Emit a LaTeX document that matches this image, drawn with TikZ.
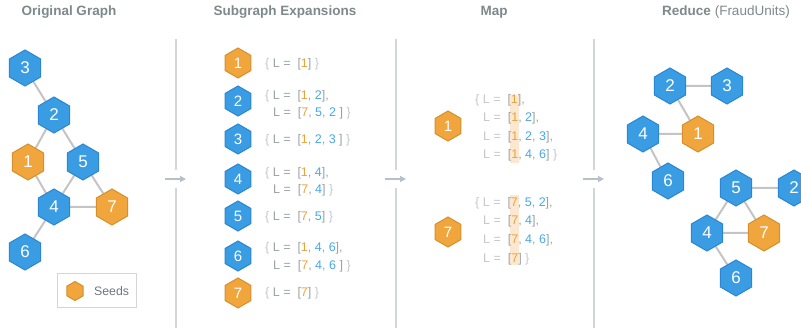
\documentclass[tikz,border=0pt]{standalone}
\usepackage{fontspec}
\setmainfont{Liberation Sans}
\usetikzlibrary{shapes.geometric,arrows.meta,backgrounds}
\definecolor{hblue}{HTML}{3A9DE3}
\definecolor{hbluedk}{HTML}{2A86D4}
\definecolor{horange}{HTML}{F0A63C}
\definecolor{horangedk}{HTML}{D68F2C}
\definecolor{nblue}{HTML}{45A8E8}
\definecolor{nor}{HTML}{E9A33E}
\definecolor{tgray}{HTML}{9BA1A6}
\definecolor{tlight}{HTML}{C3C7CB}
\definecolor{ttitle}{HTML}{7E8989}
\definecolor{edgegray}{HTML}{C4C4C4}
\definecolor{sepgray}{HTML}{D2D6DA}
\definecolor{arrgray}{HTML}{B5C0CB}
\definecolor{hilite}{HTML}{FCE8D0}
\definecolor{legtext}{HTML}{6E777C}
\newcommand\cO[1]{\textcolor{nor}{#1}}
\newcommand\cB[1]{\textcolor{nblue}{#1}}
\newcommand\lbr{\textcolor{tlight}{\{}}
\newcommand\rbr{\textcolor{tlight}{\}}}
\newcommand\Lq{L\ =\ \ [}
\newcommand\Lql{\textcolor{tlight}{L\ =}\ \ [}
\begin{document}
\begin{tikzpicture}[x=1pt,y=-1pt,
  hex/.style={regular polygon, regular polygon sides=6, shape border rotate=30, inner sep=0pt, line width=1pt, text=white},
  hb/.style={hex, fill=hblue, draw=hbluedk},
  ho/.style={hex, fill=horange, draw=horangedk},
  big/.style={minimum size=36pt, font=\fontsize{17}{17}\selectfont},
  small/.style={minimum size=30pt, font=\fontsize{15}{15}\selectfont},
  edge/.style={draw=edgegray, line width=2pt},
  txt/.style={anchor=west, inner sep=0pt, text height=9pt, text depth=0pt, text=tgray, font=\fontsize{12.5}{12.5}\selectfont},
  title/.style={text=ttitle, font=\fontsize{13.5}{13.5}\selectfont},
  sepline/.style={draw=sepgray, line width=1.2pt},
  arr/.style={draw=arrgray, line width=1.2pt, -{Triangle[length=6pt,width=6pt]}}
]
\useasboundingbox (0,0) rectangle (801,328);
\clip (0,0) rectangle (801,328);

% titles
\node[title] (t1) at (69,12) {\bfseries Original Graph};
\node[title] (t2) at (285,12) {\bfseries Subgraph Expansions};
\node[title] (t3) at (494,12) {\bfseries Map};
\node[title] (t4) at (726,12) {\textbf{Reduce} (FraudUnits)};

% separators and arrows
\foreach \i/\x in {1/176,2/396,3/594}{
  \coordinate (s\i a) at (\x,39);
  \coordinate (s\i b) at (\x,170);
  \coordinate (s\i c) at (\x,188);
  \coordinate (s\i d) at (\x,328);
  \draw[sepline] (s\i a) -- (s\i b);
  \draw[sepline] (s\i c) -- (s\i d);
  \coordinate (a\i s) at (\x-11,179);
  \coordinate (a\i e) at (\x+10,179);
  \draw[arr] (a\i s) -- (a\i e);
}

% original graph
\node[hb,big] (g3) at (25,68) {3};
\node[hb,big] (g2) at (54,115) {2};
\node[ho,big] (g1) at (28,162) {1};
\node[hb,big] (g5) at (83,162) {5};
\node[hb,big] (g4) at (54,207) {4};
\node[ho,big] (g7) at (112,207) {7};
\node[hb,big] (g6) at (25,252) {6};
\begin{scope}[on background layer]
\draw[edge] (g3) -- (g2);
\draw[edge] (g2) -- (g1);
\draw[edge] (g2) -- (g5);
\draw[edge] (g1) -- (g4);
\draw[edge] (g5) -- (g4);
\draw[edge] (g5) -- (g7);
\draw[edge] (g4) -- (g7);
\draw[edge] (g4) -- (g6);
\end{scope}

% legend
\node[draw=sepgray, line width=1pt, minimum width=79pt, minimum height=34pt, inner sep=0pt] (leg) at (96.5,290.5) {};
\node[ho, minimum size=19pt] (legh) at (75,291) {};
\node[anchor=west, inner sep=0pt, text=legtext, font=\fontsize{12.3}{12.3}\selectfont] (legt) at (94,291) {Seeds};

% subgraph expansions
\node[ho,small] (e1) at (238,63) {1};
\node[hb,small] (e2) at (238,101) {2};
\node[hb,small] (e3) at (238,139) {3};
\node[hb,small] (e4) at (238,179) {4};
\node[hb,small] (e5) at (238,216) {5};
\node[hb,small] (e6) at (238,256) {6};
\node[ho,small] (e7) at (238,293) {7};

\node[txt] (x1) at (265,63) {\lbr\ \Lq\cO{1}]\ \rbr};
\node[txt] (x2a) at (265,95) {\lbr\ \Lq\cO{1}, \cB{2}],};
\node[txt] (x2b) at (273,112) {\Lq\cO{7}, \cB{5}, \cB{2}\ ]\ \rbr};
\node[txt] (x3) at (265,139) {\lbr\ \Lq\cO{1}, \cB{2}, \cB{3}\ ]\ \rbr};
\node[txt] (x4a) at (265,172) {\lbr\ \Lq\cO{1}, \cB{4}],};
\node[txt] (x4b) at (273,189) {\Lq\cO{7}, \cB{4}]\ \rbr};
\node[txt] (x5) at (265,216) {\lbr\ \Lq\cO{7}, \cB{5}]\ \rbr};
\node[txt] (x6a) at (265,247) {\lbr\ \Lq\cO{1}, \cB{4}, \cB{6}],};
\node[txt] (x6b) at (273,265) {\Lq\cO{7}, \cB{4}, \cB{6}\ ]\ \rbr};
\node[txt] (x7) at (265,292) {\lbr\ \Lq\cO{7}]\ \rbr};

% map
\fill[hilite] (510,95) rectangle (519,163);
\fill[hilite] (510,195) rectangle (519,265);
\node[ho,small] (m1) at (448,126) {1};
\node[ho,small] (m7) at (448,232) {7};
\node[txt] (y1a) at (475,99) {\lbr\ \Lql\cO{1}],};
\node[txt] (y1b) at (483,117) {\Lql\cO{1}, \cB{2}],};
\node[txt] (y1c) at (483,136) {\Lql\cO{1}, \cB{2}, \cB{3}],};
\node[txt] (y1d) at (483,154) {\Lql\cO{1}, \cB{4}, \cB{6}]\ \rbr};
\node[txt] (y7a) at (475,202) {\lbr\ \Lql\cO{7}, \cB{5}, \cB{2}],};
\node[txt] (y7b) at (483,220) {\Lql\cO{7}, \cB{4}],};
\node[txt] (y7c) at (483,239) {\Lql\cO{7}, \cB{4}, \cB{6}],};
\node[txt] (y7d) at (483,258) {\Lql\cO{7}]\ \rbr};

% reduce
\node[hb,big] (r2) at (670,86) {2};
\node[hb,big] (r3) at (727,86) {3};
\node[hb,big] (r4) at (643,134) {4};
\node[ho,big] (r1) at (698,134) {1};
\node[hb,big] (r6) at (668,181) {6};
\node[hb,big] (q5) at (736,188) {5};
\node[hb,big] (q2) at (794,188) {2};
\node[hb,big] (q4) at (707,233) {4};
\node[ho,big] (q7) at (764,233) {7};
\node[hb,big] (q6) at (736,278) {6};
\begin{scope}[on background layer]
\draw[edge] (r2) -- (r3);
\draw[edge] (r2) -- (r1);
\draw[edge] (r4) -- (r1);
\draw[edge] (r4) -- (r6);
\draw[edge] (q5) -- (q2);
\draw[edge] (q5) -- (q4);
\draw[edge] (q5) -- (q7);
\draw[edge] (q4) -- (q7);
\draw[edge] (q4) -- (q6);
\end{scope}
\end{tikzpicture}
\end{document}
